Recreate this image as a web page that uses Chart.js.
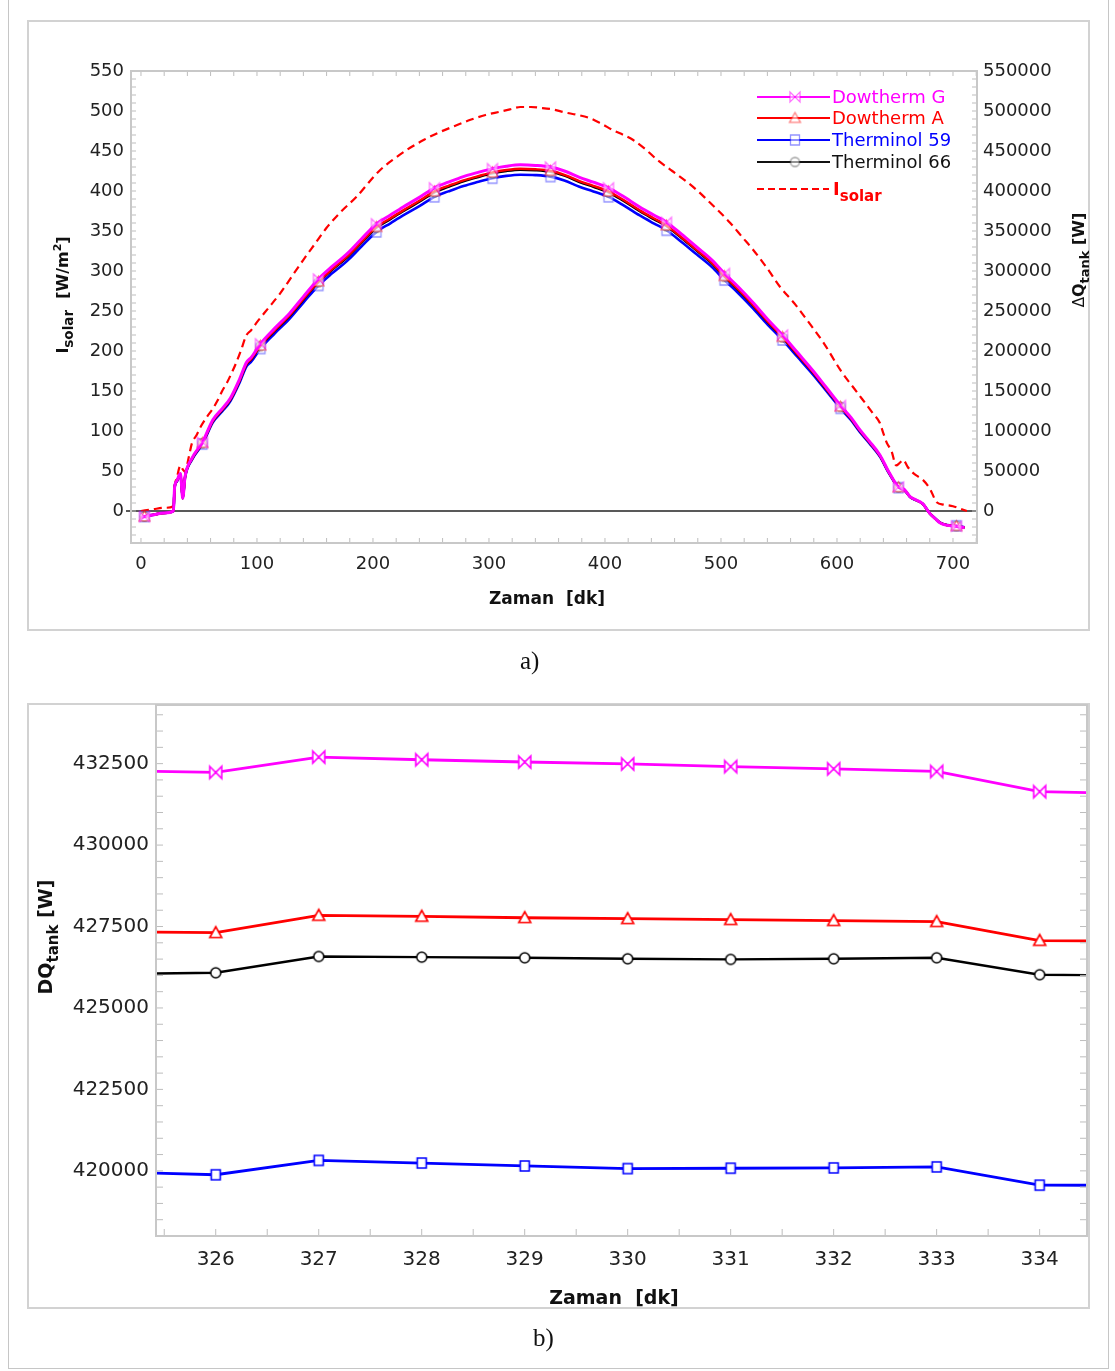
<!DOCTYPE html>
<html>
<head>
<meta charset="utf-8">
<script src="https://cdn.jsdelivr.net/npm/chart.js@4.4.1/dist/chart.umd.min.js"></script>
<style>
  html, body { margin: 0; padding: 0; background: #fff; }
  #page { position: relative; width: 1115px; height: 1371px; overflow: hidden; background: #fff; }
  .edge { position: absolute; left: 8px; top: -2px; width: 1101px; height: 1371px; border: 1px solid #c6c6c6; box-sizing: border-box; }
  .panel { position: absolute; border: 2px solid #d2d2d2; box-sizing: border-box; }
  .holder { position: absolute; left: 0; }
  .holder canvas { display: block; }
  .cap { position: absolute; font-family: "Liberation Serif", "DejaVu Serif", serif; font-size: 25px; color: #111; line-height: 1; }
</style>
</head>
<body>
<div id="page">
  <div class="edge"></div>
  <div class="panel" style="left:27px;top:20px;width:1063px;height:611px"></div>
  <div class="panel" style="left:27px;top:703px;width:1063px;height:606px"></div>
  <div class="holder" style="top:0"><canvas id="chartA" width="1115" height="640"></canvas></div>
  <div class="holder" style="top:650px"><canvas id="chartB" width="1115" height="721"></canvas></div>
  <div class="cap" style="left:520px;top:648px">a)</div>
  <div class="cap" style="left:533px;top:1325px">b)</div>
</div>
<script>
// ---------- Daily run: time axis [dk] ----------
const tankMinutes = [0, 3, 10, 20, 28, 29, 31, 34, 36, 38, 44, 53, 62, 70, 77, 85, 91, 95, 103, 115,
  128, 140, 153, 165, 178, 190, 203, 215, 226, 240, 253, 265, 278, 290, 303, 315, 327, 340, 353, 365,
  378, 390, 403, 415, 430, 442, 453, 466, 479, 492, 503, 515, 528, 540, 553, 566, 579, 591, 603, 612,
  620, 628, 637, 645, 653, 658, 663, 668, 674, 680, 685, 689, 695, 703, 710];

// Stored heat in the tank, ΔQ_tank [W]
const qDowthermG = [-8000, -7000, -5000, -2500, 0, 30000, 38000, 47000, 16000, 43000, 66000, 86000, 114000, 128000, 141000, 165000, 186000, 192000, 209000, 228000,
  247000, 268000, 290000, 306000, 322000, 340000, 359000, 370000, 380000, 392000, 404000, 411000, 418000, 423000, 428000, 431000, 432700, 432000, 430000, 425000,
  417000, 411000, 404000, 394000, 380000, 370000, 361000, 346000, 330000, 314000, 297000, 280000, 260000, 240000, 220000, 198000, 176000, 154000, 132000, 117000,
  101000, 87000, 70000, 48000, 30000, 27000, 18000, 14000, 9000, -3000, -10000, -15000, -18000, -19000, -21000];
const qDowthermA = [-7900, -6900, -4900, -2500, 0, 29700, 37600, 46500, 15800, 42500, 65300, 85100, 112700, 126600, 139400, 163200, 184000, 189900, 206700, 225500,
  244300, 265100, 286800, 302600, 318500, 336300, 355100, 365900, 375800, 387700, 399600, 406500, 413400, 418300, 423300, 426300, 427840, 427200, 425300, 420300,
  412400, 406500, 399600, 389700, 375800, 365900, 357000, 342200, 326400, 310500, 293700, 276900, 257100, 237400, 217600, 195800, 174100, 152300, 130500, 115700,
  99900, 86000, 69200, 47500, 29700, 26700, 17800, 13800, 8900, -3000, -9900, -14800, -17800, -18800, -20800];
const qTherminol66 = [-7900, -6900, -4900, -2500, 0, 29600, 37500, 46300, 15800, 42400, 65100, 84800, 112400, 126200, 139000, 162700, 183400, 189300, 206100, 224800,
  243500, 264200, 285900, 301700, 317500, 335200, 354000, 364800, 374700, 386500, 398300, 405200, 412100, 417100, 422000, 425000, 426580, 426000, 424000, 419100,
  411200, 405200, 398300, 388500, 374700, 364800, 355900, 341200, 325400, 309600, 292800, 276100, 256400, 236600, 216900, 195200, 173500, 151800, 130200, 115400,
  99600, 85800, 69000, 47300, 29600, 26600, 17700, 13800, 8900, -3000, -9900, -14800, -17700, -18700, -20700];
const qTherminol59 = [-7800, -6800, -4900, -2400, 0, 29200, 36900, 45700, 15600, 41800, 64200, 83600, 110800, 124400, 137100, 160400, 180800, 186600, 203100, 221600,
  240100, 260500, 281900, 297400, 313000, 330500, 348900, 359600, 369400, 381000, 392700, 399500, 406300, 411200, 416000, 418900, 420320, 419900, 418000, 413100,
  405300, 399500, 392700, 383000, 369400, 359600, 350900, 336300, 320800, 305200, 288700, 272200, 252700, 233300, 213800, 192500, 171100, 149700, 128300, 113700,
  98200, 84600, 68000, 46700, 29200, 26200, 17500, 13600, 8700, -2900, -9700, -14600, -17500, -18500, -20400];

// Solar irradiance, I_solar [W/m2]
const solarMinutes = [0, 10, 20, 28, 29, 31, 34, 36, 38, 41, 44, 48, 51, 57, 62, 66, 70, 74, 78, 82,
  86, 91, 95, 100, 110, 120, 130, 140, 150, 160, 173, 186, 196, 206, 219, 232, 244, 255, 270, 284,
  297, 309, 318, 327, 336, 344, 355, 366, 377, 387, 397, 407, 416, 424, 435, 445, 458, 471, 480, 488,
  498, 508, 518, 528, 540, 551, 563, 574, 589, 603, 617, 631, 637, 640, 643, 647, 651, 654, 657, 661,
  666, 670, 674, 680, 686, 692, 700, 706, 712];
const solarIrradiance = [0, 2, 4, 6, 30, 42, 57, 52, 49, 66, 85, 95, 104, 118, 128, 138, 150, 160, 172, 185,
  200, 220, 226, 236, 254, 272, 293, 314, 334, 354, 375, 393, 410, 426, 441, 454, 464, 472, 481, 489,
  495, 499, 502, 505, 505, 504, 502, 498, 495, 491, 484, 476, 470, 464, 452, 439, 425, 411, 400, 389,
  375, 360, 343, 326, 303, 280, 260, 239, 209, 176, 149, 122, 110, 97, 85, 75, 57, 60, 64, 55,
  47, 43, 39, 28, 11, 8, 6, 3, 0];

const markerMinutes = [3, 53, 103, 153, 203, 253, 303, 353, 403, 453, 503, 553, 603, 653, 703];
const dayTicks = [0, 100, 200, 300, 400, 500, 600, 700];
const irradianceTicks = [0, 50, 100, 150, 200, 250, 300, 350, 400, 450, 500, 550];
const heatTicks = [0, 50000, 100000, 150000, 200000, 250000, 300000, 350000, 400000, 450000, 500000, 550000];

// ---------- Close-up around the peak ----------
const peakMinutes = [325, 326, 327, 328, 329, 330, 331, 332, 333, 334, 335];
const peakDowthermG = [432290, 432230, 432700, 432620, 432550, 432490, 432410, 432340, 432260, 431640, 431575];
const peakDowthermA = [427340, 427310, 427840, 427810, 427770, 427740, 427710, 427680, 427650, 427070, 427050];
const peakTherminol66 = [426040, 426080, 426580, 426560, 426540, 426510, 426490, 426510, 426540, 426020, 425995];
const peakTherminol59 = [419965, 419880, 420320, 420240, 420150, 420070, 420080, 420090, 420120, 419560, 419555];
const peakTicksX = [326, 327, 328, 329, 330, 331, 332, 333, 334];
const peakTicksY = [420000, 422500, 425000, 427500, 430000, 432500];

// ---------- helpers ----------
const FONT = '"DejaVu Sans", "Liberation Sans", Arial, sans-serif';
const FRAME = '#c8c8c8';
const pairs = (xs, ys) => xs.map((x, i) => ({ x: x, y: ys[i] }));

function markerImage(kind, stroke, fill, size, lw) {
  const pad = Math.ceil(lw) + 1;
  const c = document.createElement('canvas');
  c.width = c.height = size + pad * 2;
  const g = c.getContext('2d');
  const h = size / 2;
  g.translate(c.width / 2, c.height / 2);
  g.lineWidth = lw;
  g.strokeStyle = stroke;
  g.fillStyle = fill;
  g.beginPath();
  if (kind === 'bowtie') {
    g.moveTo(-h, -h); g.lineTo(h, h); g.lineTo(h, -h); g.lineTo(-h, h); g.closePath();
  } else if (kind === 'triangle') {
    g.moveTo(0, -h); g.lineTo(h, h * 0.8); g.lineTo(-h, h * 0.8); g.closePath();
  } else if (kind === 'square') {
    g.rect(-h * 0.9, -h, h * 1.8, h * 2);
  } else {
    g.arc(0, 0, h, 0, Math.PI * 2);
  }
  g.fill();
  g.stroke();
  return c;
}

// rich text: parts = [{t, f, dy, c}], centred on (cx, cy); rotated reads bottom-to-top
function drawRich(ctx, parts, cx, cy, rotated, base) {
  ctx.save();
  ctx.translate(cx, cy);
  if (rotated) ctx.rotate(-Math.PI / 2);
  let total = 0;
  parts.forEach(p => { ctx.font = p.f; p.w = ctx.measureText(p.t).width; total += p.w; });
  let x = -total / 2;
  ctx.textBaseline = 'alphabetic';
  ctx.textAlign = 'left';
  parts.forEach(p => {
    ctx.font = p.f;
    ctx.fillStyle = p.c || '#111';
    ctx.fillText(p.t, x, base + (p.dy || 0));
    x += p.w;
  });
  ctx.restore();
}

function tickRun(scale, from, to, step, draw) {
  for (let v = from; v <= to + step * 1e-6; v += step) draw(scale.getPixelForValue(v));
}

function frameAndTicks(ctx, area, xs, ys, xStep, yStep, len, topTicks) {
  ctx.save();
  ctx.strokeStyle = '#bdbdbd';
  ctx.lineWidth = 1;
  ctx.beginPath();
  tickRun(xs, Math.ceil(xs.min / xStep) * xStep, xs.max, xStep, p => {
    ctx.moveTo(p, area.bottom); ctx.lineTo(p, area.bottom - len);
    if (topTicks) { ctx.moveTo(p, area.top); ctx.lineTo(p, area.top + len); }
  });
  tickRun(ys, Math.ceil(ys.min / yStep) * yStep, ys.max, yStep, p => {
    ctx.moveTo(area.left, p); ctx.lineTo(area.left + len, p);
    ctx.moveTo(area.right, p); ctx.lineTo(area.right - len, p);
  });
  ctx.stroke();
  ctx.strokeStyle = FRAME;
  ctx.lineWidth = 2;
  ctx.strokeRect(area.left, area.top, area.right - area.left, area.bottom - area.top);
  ctx.restore();
}

const fixedTicks = values => scale => { scale.ticks = values.map(v => ({ value: v })); };

// ---------- marker images ----------
const paleMarks = {
  g: markerImage('bowtie', 'rgba(255,0,255,0.55)', 'rgba(255,255,255,0.55)', 10, 1.3),
  a: markerImage('triangle', 'rgba(255,0,0,0.5)', 'rgba(255,255,255,0.55)', 11, 1.3),
  t59: markerImage('square', 'rgba(40,40,255,0.5)', 'rgba(255,255,255,0.55)', 10, 1.3),
  t66: markerImage('circle', 'rgba(60,60,60,0.5)', 'rgba(255,255,255,0.55)', 9, 1.3)
};
const solidMarks = {
  g: markerImage('bowtie', '#ff00ff', '#ffffff', 12, 1.6),
  a: markerImage('triangle', '#ff0000', '#ffffff', 12, 1.6),
  t59: markerImage('square', '#0000ff', '#ffffff', 10, 1.6),
  t66: markerImage('circle', '#000000', '#ffffff', 10, 1.5)
};

const atMarker = ctx => (ctx.raw && markerMinutes.includes(ctx.raw.x)) ? 6 : 0;

function tankSeries(label, values, color, mark, width) {
  return {
    label: label,
    data: pairs(tankMinutes, values),
    yAxisID: 'y1',
    borderColor: color,
    backgroundColor: color,
    borderWidth: width,
    pointStyle: mark,
    pointRadius: atMarker,
    cubicInterpolationMode: 'monotone'
  };
}

// ---------- chart a) full day ----------
const dayDecor = {
  id: 'dayDecor',
  beforeDatasetsDraw(chart) {
    const { ctx, chartArea: a, scales } = chart;
    const y0 = scales.y.getPixelForValue(0);
    ctx.save();
    ctx.strokeStyle = '#222';
    ctx.lineWidth = 1.6;
    ctx.beginPath();
    ctx.moveTo(a.left - 5, y0);
    ctx.lineTo(a.right, y0);
    ctx.stroke();
    ctx.restore();
  },
  afterDatasetsDraw(chart) {
    const { ctx, chartArea: a, scales } = chart;
    frameAndTicks(ctx, a, scales.x, scales.y, 20, 10, 5, true);

    // legend
    const rows = [
      { text: 'Dowtherm G', color: '#ff00ff', mark: paleMarks.g, y: 97 },
      { text: 'Dowtherm A', color: '#ff0000', mark: paleMarks.a, y: 118 },
      { text: 'Therminol 59', color: '#0000ff', mark: paleMarks.t59, y: 140 },
      { text: 'Therminol 66', color: '#111111', mark: paleMarks.t66, y: 162 }
    ];
    ctx.save();
    rows.forEach(r => {
      ctx.strokeStyle = r.color;
      ctx.lineWidth = 2.2;
      ctx.beginPath();
      ctx.moveTo(757, r.y); ctx.lineTo(830, r.y);
      ctx.stroke();
      ctx.drawImage(r.mark, 795 - r.mark.width / 2, r.y - r.mark.height / 2);
      ctx.font = '18px ' + FONT;
      ctx.fillStyle = r.color;
      ctx.textBaseline = 'middle';
      ctx.fillText(r.text, 832, r.y + 1);
    });
    ctx.strokeStyle = '#ff0000';
    ctx.lineWidth = 2.2;
    ctx.setLineDash([7, 4]);
    ctx.beginPath();
    ctx.moveTo(757, 189); ctx.lineTo(829, 189);
    ctx.stroke();
    ctx.setLineDash([]);
    ctx.fillStyle = '#ff0000';
    ctx.textBaseline = 'alphabetic';
    ctx.font = 'bold 18px ' + FONT;
    ctx.fillText('I', 833, 195);
    const iw = ctx.measureText('I').width;
    ctx.font = 'bold 15px ' + FONT;
    ctx.fillText('solar', 833 + iw, 201);
    ctx.restore();

    // axis titles
    drawRich(ctx, [{ t: 'Zaman  [dk]', f: 'bold 17px ' + FONT }], 547, 604, false, 0);
    drawRich(ctx, [
      { t: 'I', f: 'bold 16px ' + FONT },
      { t: 'solar', f: 'bold 13.5px ' + FONT, dy: 5 },
      { t: '  [W/m', f: 'bold 16px ' + FONT },
      { t: '2', f: 'bold 11px ' + FONT, dy: -7 },
      { t: ']', f: 'bold 16px ' + FONT }
    ], 62, 295, true, 6);
    drawRich(ctx, [
      { t: '\u0394', f: '15px ' + FONT },
      { t: 'Q', f: 'bold 16px ' + FONT },
      { t: 'tank', f: 'bold 13px ' + FONT, dy: 5 },
      { t: ' [W]', f: 'bold 16px ' + FONT }
    ], 1078, 260, true, 6);
  }
};

new Chart(document.getElementById('chartA'), {
  type: 'line',
  data: {
    datasets: [
      tankSeries('Dowtherm G', qDowthermG, '#ff00ff', paleMarks.g, 3),
      tankSeries('Dowtherm A', qDowthermA, '#ff0000', paleMarks.a, 2.4),
      tankSeries('Therminol 66', qTherminol66, '#000000', paleMarks.t66, 2.4),
      tankSeries('Therminol 59', qTherminol59, '#0000ff', paleMarks.t59, 2.6),
      {
        label: 'Isolar',
        data: pairs(solarMinutes, solarIrradiance),
        yAxisID: 'y',
        borderColor: '#ff0000',
        borderWidth: 2.2,
        borderDash: [8, 5],
        pointRadius: 0,
        cubicInterpolationMode: 'monotone'
      }
    ]
  },
  options: {
    responsive: false,
    animation: false,
    events: [],
    layout: { padding: { top: 71, left: 0, right: 0, bottom: 0 } },
    plugins: { legend: { display: false }, tooltip: { enabled: false } },
    scales: {
      x: {
        type: 'linear', min: -8.6, max: 720.7,
        grid: { display: false, drawTicks: false }, border: { display: false },
        ticks: { color: '#222', font: { family: FONT, size: 18 }, padding: 11, maxRotation: 0, callback: v => String(v) },
        afterBuildTicks: fixedTicks(dayTicks),
        afterFit: s => { s.height = 97; }
      },
      y: {
        position: 'left', min: -40, max: 550,
        grid: { display: false, drawTicks: false }, border: { display: false },
        ticks: { color: '#222', font: { family: FONT, size: 18 }, padding: 7, callback: v => String(v) },
        afterBuildTicks: fixedTicks(irradianceTicks),
        afterFit: s => { s.width = 131; }
      },
      y1: {
        position: 'right', min: -40000, max: 550000,
        grid: { display: false, drawTicks: false }, border: { display: false },
        ticks: { color: '#222', font: { family: FONT, size: 18 }, padding: 6, callback: v => String(v) },
        afterBuildTicks: fixedTicks(heatTicks),
        afterFit: s => { s.width = 138; }
      }
    }
  },
  plugins: [dayDecor]
});

// ---------- chart b) close-up ----------
const peakDecor = {
  id: 'peakDecor',
  afterDatasetsDraw(chart) {
    const { ctx, chartArea: a, scales } = chart;
    frameAndTicks(ctx, a, scales.x, scales.y, 0.5, 500, 7, false);
    drawRich(ctx, [{ t: 'Zaman  [dk]', f: 'bold 19px ' + FONT }], 614, 654, false, 0);
    drawRich(ctx, [
      { t: 'DQ', f: 'bold 19px ' + FONT },
      { t: 'tank', f: 'bold 15px ' + FONT, dy: 6 },
      { t: ' [W]', f: 'bold 19px ' + FONT }
    ], 45, 287, true, 7);
  }
};

function peakSeries(label, values, color, mark, width) {
  return {
    label: label,
    data: pairs(peakMinutes, values),
    borderColor: color,
    backgroundColor: color,
    borderWidth: width,
    pointStyle: mark,
    pointRadius: 6,
    tension: 0
  };
}

new Chart(document.getElementById('chartB'), {
  type: 'line',
  data: {
    datasets: [
      peakSeries('Dowtherm G', peakDowthermG, '#ff00ff', solidMarks.g, 2.8),
      peakSeries('Dowtherm A', peakDowthermA, '#ff0000', solidMarks.a, 2.8),
      peakSeries('Therminol 66', peakTherminol66, '#000000', solidMarks.t66, 2.4),
      peakSeries('Therminol 59', peakTherminol59, '#0000ff', solidMarks.t59, 2.8)
    ]
  },
  options: {
    responsive: false,
    animation: false,
    events: [],
    layout: { padding: { top: 55, left: 0, right: 28, bottom: 0 } },
    plugins: { legend: { display: false }, tooltip: { enabled: false } },
    scales: {
      x: {
        type: 'linear', min: 325.42, max: 334.46,
        grid: { display: false, drawTicks: false }, border: { display: false },
        ticks: { color: '#222', font: { family: FONT, size: 20 }, padding: 12, maxRotation: 0, callback: v => String(v) },
        afterBuildTicks: fixedTicks(peakTicksX),
        afterFit: s => { s.height = 135; }
      },
      y: {
        position: 'left', min: 418000, max: 434300,
        grid: { display: false, drawTicks: false }, border: { display: false },
        ticks: { color: '#222', font: { family: FONT, size: 20 }, padding: 7, callback: v => String(v) },
        afterBuildTicks: fixedTicks(peakTicksY),
        afterFit: s => { s.width = 156; }
      }
    }
  },
  plugins: [peakDecor]
});
</script>
</body>
</html>
